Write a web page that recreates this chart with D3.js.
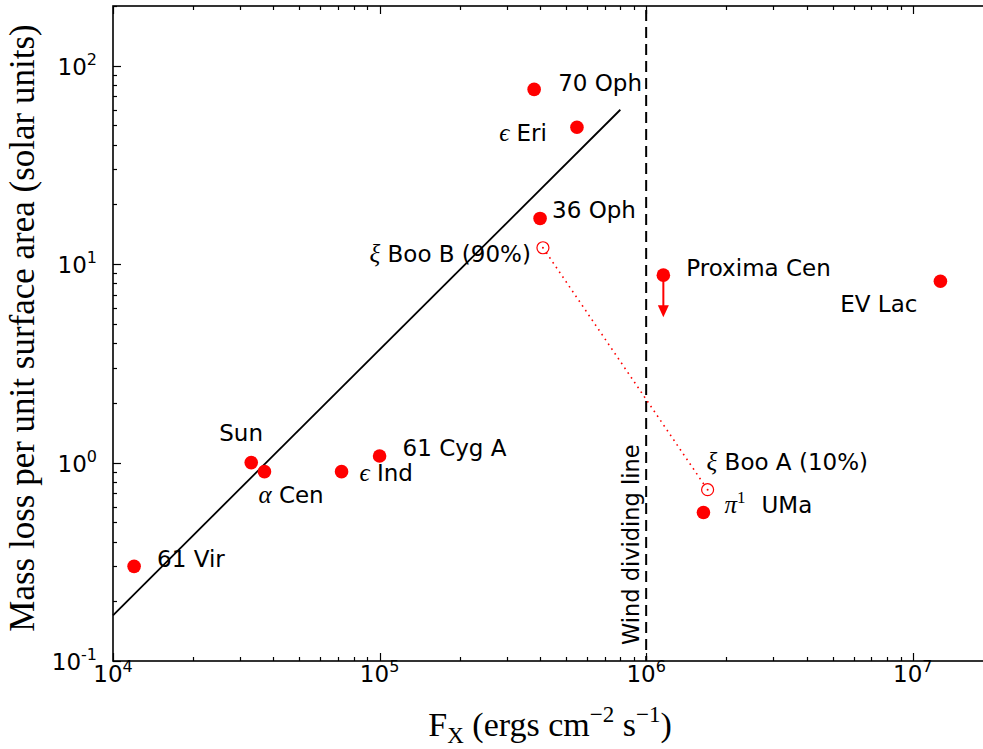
<!DOCTYPE html>
<html>
<head>
<meta charset="utf-8">
<script src="https://cdn.jsdelivr.net/npm/d3@7"></script>
<style>
  html, body { margin: 0; padding: 0; background: #fff; }
  svg { display: block; }
  .sans { font-family: "DejaVu Sans", sans-serif; }
  .serif { font-family: "Liberation Serif", "DejaVu Serif", serif; }
</style>
</head>
<body>
<svg id="chart" width="983" height="749"></svg>
<script>
// Stars: X-ray surface flux vs. mass-loss rate per unit surface area
const starNames   = ["61 Vir", "Sun", "α Cen", "ϵ Ind", "61 Cyg A", "70 Oph", "ϵ Eri", "36 Oph", "Proxima Cen", "EV Lac", "π1 UMa"];
const starFlux    = [1.2e4, 3.3e4, 3.7e4, 7.2e4, 1.0e5, 3.8e5, 5.5e5, 4.0e5, 1.16e6, 1.27e7, 1.64e6];
const starMassLoss = [0.30, 1.0, 0.90, 0.90, 1.08, 76, 49, 17, 8.8, 8.2, 0.56];

// ξ Boo binary: mass loss split between components (open symbols)
const xiBooNames    = ["ξ Boo B (90%)", "ξ Boo A (10%)"];
const xiBooFlux     = [4.1e5, 1.7e6];
const xiBooMassLoss = [12.1, 0.73];

// Power-law relation drawn as a solid line
const fitFlux     = [1e4, 8e5];
const fitMassLoss = [0.17, 60];

// Wind dividing line
const dividingFlux = 1e6;

// Axis ticks
const xTickExps = [4, 5, 6, 7];
const yTickExps = [-1, 0, 1, 2];

// Label placement (pixel offsets from each marker)
const labelLayout = {
  "61 Vir":        {dx: 23,  dy: 1,  anchor: "start"},
  "Sun":           {dx: -32, dy: -22, anchor: "start"},
  "α Cen":         {dx: -6,  dy: 31, anchor: "start"},
  "ϵ Ind":         {dx: 18,  dy: 9,  anchor: "start"},
  "61 Cyg A":      {dx: 23,  dy: 0,  anchor: "start"},
  "70 Oph":        {dx: 24,  dy: 2,  anchor: "start"},
  "ϵ Eri":         {dx: -30, dy: 14, anchor: "end"},
  "36 Oph":        {dx: 12,  dy: 0,  anchor: "start"},
  "Proxima Cen":   {dx: 23,  dy: 1,  anchor: "start"},
  "EV Lac":        {dx: -23, dy: 31, anchor: "end"},
  "π1 UMa":        {dx: 21,  dy: 0,  anchor: "start"},
  "ξ Boo B (90%)": {dx: -12, dy: 14, anchor: "end"},
  "ξ Boo A (10%)": {dx: -1,  dy: -20, anchor: "start"}
};

const svg = d3.select("#chart");
const L = 113, R = 993, T = 6, B = 661;
const red = "#ff0000";
const labelSize = 23;

const x = d3.scaleLog().domain([1e4, 2e7]).range([L, R]);
const y = d3.scaleLog().domain([0.1, 200]).range([B, T]);

// Tick marks (inside the frame)
function minorTicks(scale) {
  const [a, b] = scale.domain();
  const out = [];
  for (let e = Math.floor(Math.log10(a)); e <= Math.ceil(Math.log10(b)); e++) {
    for (let m = 1; m < 10; m++) {
      const v = m * Math.pow(10, e);
      if (v >= a * 0.9999 && v <= b * 1.0001) out.push({v, major: m === 1});
    }
  }
  return out;
}
const tickG = svg.append("g").attr("stroke", "#000").attr("stroke-width", 1.2);
minorTicks(x).forEach(t => {
  const len = t.major ? 8 : 4;
  const px = Math.round(x(t.v)) + 0.5;
  tickG.append("line").attr("x1", px).attr("x2", px).attr("y1", B).attr("y2", B - len);
  tickG.append("line").attr("x1", px).attr("x2", px).attr("y1", T).attr("y2", T + len);
});
minorTicks(y).forEach(t => {
  const len = t.major ? 8 : 4;
  const py = Math.round(y(t.v)) + 0.5;
  tickG.append("line").attr("y1", py).attr("y2", py).attr("x1", L).attr("x2", L + len);
  tickG.append("line").attr("y1", py).attr("y2", py).attr("x1", R).attr("x2", R - len);
});

// Fit line
const line = d3.line().x(d => x(d[0])).y(d => y(d[1]));
svg.append("path")
  .attr("d", line(d3.zip(fitFlux, fitMassLoss)))
  .attr("fill", "none").attr("stroke", "#000").attr("stroke-width", 1.8);

// Wind dividing line
svg.append("line")
  .attr("x1", x(dividingFlux)).attr("x2", x(dividingFlux))
  .attr("y1", T).attr("y2", B)
  .attr("stroke", "#000").attr("stroke-width", 2)
  .attr("stroke-dasharray", "11,6").attr("stroke-dashoffset", -4);
svg.append("text").attr("class", "sans")
  .attr("transform", `translate(${x(dividingFlux) - 7},645) rotate(-90)`)
  .attr("font-size", 22.5).attr("text-anchor", "start")
  .text("Wind dividing line");

// ξ Boo connector
svg.append("path")
  .attr("d", line(d3.zip(xiBooFlux, xiBooMassLoss)))
  .attr("fill", "none").attr("stroke", red).attr("stroke-width", 1.6)
  .attr("stroke-dasharray", "1.6,4.2");

// Proxima Cen upper-limit arrow
const pIdx = starNames.indexOf("Proxima Cen");
const px0 = x(starFlux[pIdx]), py0 = y(starMassLoss[pIdx]);
svg.append("line").attr("x1", px0).attr("x2", px0).attr("y1", py0).attr("y2", py0 + 32)
  .attr("stroke", red).attr("stroke-width", 2);
svg.append("path")
  .attr("d", `M${px0 - 5.5},${py0 + 30} L${px0 + 5.5},${py0 + 30} L${px0},${py0 + 42} Z`)
  .attr("fill", red);

// Filled markers
svg.append("g").selectAll("circle")
  .data(d3.range(starNames.length))
  .join("circle")
  .attr("cx", i => x(starFlux[i])).attr("cy", i => y(starMassLoss[i]))
  .attr("r", 6.8).attr("fill", red);

// Open sun-symbol markers
const og = svg.append("g").selectAll("g")
  .data(d3.range(xiBooNames.length)).join("g")
  .attr("transform", i => `translate(${x(xiBooFlux[i])},${y(xiBooMassLoss[i])})`);
og.append("circle").attr("r", 6).attr("fill", "#fff").attr("stroke", red).attr("stroke-width", 1.2);
og.append("circle").attr("r", 1).attr("fill", red);

// Labels: Greek symbols in serif italic, the rest in sans
function drawLabel(name, cx, cy) {
  const lay = labelLayout[name];
  const t = svg.append("text").attr("x", cx + lay.dx).attr("y", cy + lay.dy)
    .attr("font-size", labelSize).attr("text-anchor", lay.anchor).attr("class", "sans");
  const greek = name[0];
  if ("αϵξπ".includes(greek)) {
    t.append("tspan").attr("class", "serif").attr("font-style", "italic").attr("font-size", 25).text(greek);
    const rest = name.slice(1);
    if (rest[0] === "1") {
      t.append("tspan").attr("class", "serif").attr("font-size", 17).attr("dy", -10).text("1");
      t.append("tspan").attr("dy", 10).attr("dx", 16).text(rest.slice(1).trim());
    } else {
      t.append("tspan").text(" " + rest.trim());
    }
  } else {
    t.text(name);
  }
}
starNames.forEach((n, i) => drawLabel(n, x(starFlux[i]), y(starMassLoss[i])));
xiBooNames.forEach((n, i) => drawLabel(n, x(xiBooFlux[i]), y(xiBooMassLoss[i])));

// Frame
svg.append("rect").attr("x", L).attr("y", T).attr("width", R - L).attr("height", B - T)
  .attr("fill", "none").attr("stroke", "#000").attr("stroke-width", 1.6);

// Tick labels
xTickExps.forEach(e => {
  const t = svg.append("text").attr("class", "sans").attr("x", x(Math.pow(10, e)))
    .attr("y", 682).attr("text-anchor", "middle").attr("font-size", 23);
  t.append("tspan").text("10");
  t.append("tspan").attr("font-size", 16).attr("dy", -10).text(e);
});
yTickExps.forEach(e => {
  const t = svg.append("text").attr("class", "sans").attr("x", 97)
    .attr("y", y(Math.pow(10, e)) + 9).attr("text-anchor", "end").attr("font-size", 23);
  t.append("tspan").text("10");
  t.append("tspan").attr("font-size", 16).attr("dy", -10).text(e < 0 ? "-" + (-e) : e);
});

// Axis titles
const xt = svg.append("text").attr("class", "serif").attr("x", 550).attr("y", 736)
  .attr("text-anchor", "middle").attr("font-size", 34);
xt.append("tspan").text("F");
xt.append("tspan").attr("font-size", 23).attr("dy", 7).text("X");
xt.append("tspan").attr("dy", -7).text(" (ergs cm");
xt.append("tspan").attr("font-size", 23).attr("dy", -14).text("−2");
xt.append("tspan").attr("dy", 14).text("  s");
xt.append("tspan").attr("font-size", 23).attr("dy", -14).text("−1");
xt.append("tspan").attr("dy", 14).text(")");

svg.append("text").attr("class", "serif")
  .attr("transform", "translate(34,328) rotate(-90)")
  .attr("text-anchor", "middle").attr("font-size", 35)
  .text("Mass loss per unit surface area (solar units)");
</script>
</body>
</html>
